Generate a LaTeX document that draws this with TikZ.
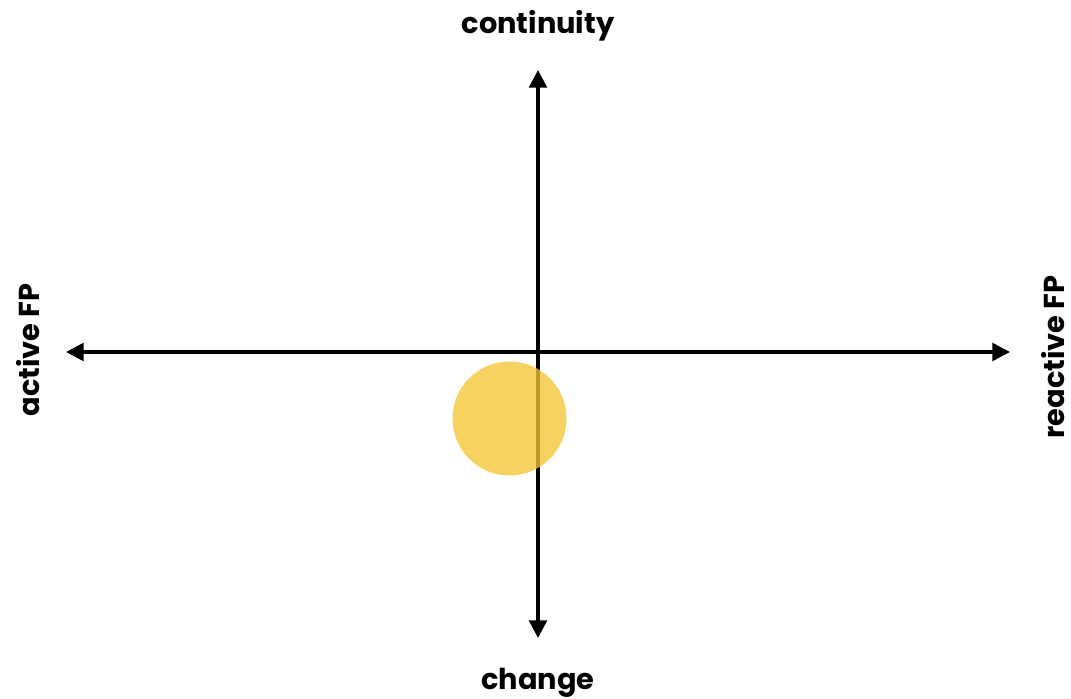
\documentclass[tikz,border=0pt]{standalone}
\usepackage{fontspec}
\setmainfont{Poppins}[BoldFont={* Bold}]
\usetikzlibrary{arrows.meta}
\definecolor{dotyellow}{RGB}{243,197,52}
\begin{document}
\begin{tikzpicture}[x=0.02cm, y=-0.02cm]
    \tikzset{axis/.style={line width=2pt, {Triangle[length=10pt, width=10pt]}-{Triangle[length=10pt, width=10pt]}},
             lbl/.style={font=\bfseries\fontsize{16.4}{19}\selectfont, inner sep=0pt}}
    \useasboundingbox (0,0) rectangle (1071,699);
    % axis ends
    \coordinate (top) at (538,70);
    \coordinate (bottom) at (538,638);
    \coordinate (left) at (66,352);
    \coordinate (right) at (1010,352);
    \draw[axis] (bottom) -- (top);
    \draw[axis] (left) -- (right);
    % the dot
    \fill[dotyellow, opacity=0.78] (509.5,418.5) circle (57);
    % pole labels
    \node[lbl] (continuity) at (538,26) {continuity};
    \node[lbl] (change) at (538,683) {change};
    \node[lbl, rotate=90] (active) at (28,350) {active FP};
    \node[lbl, rotate=90] (reactive) at (1053,357) {reactive FP};
  \end{tikzpicture}
\end{document}
